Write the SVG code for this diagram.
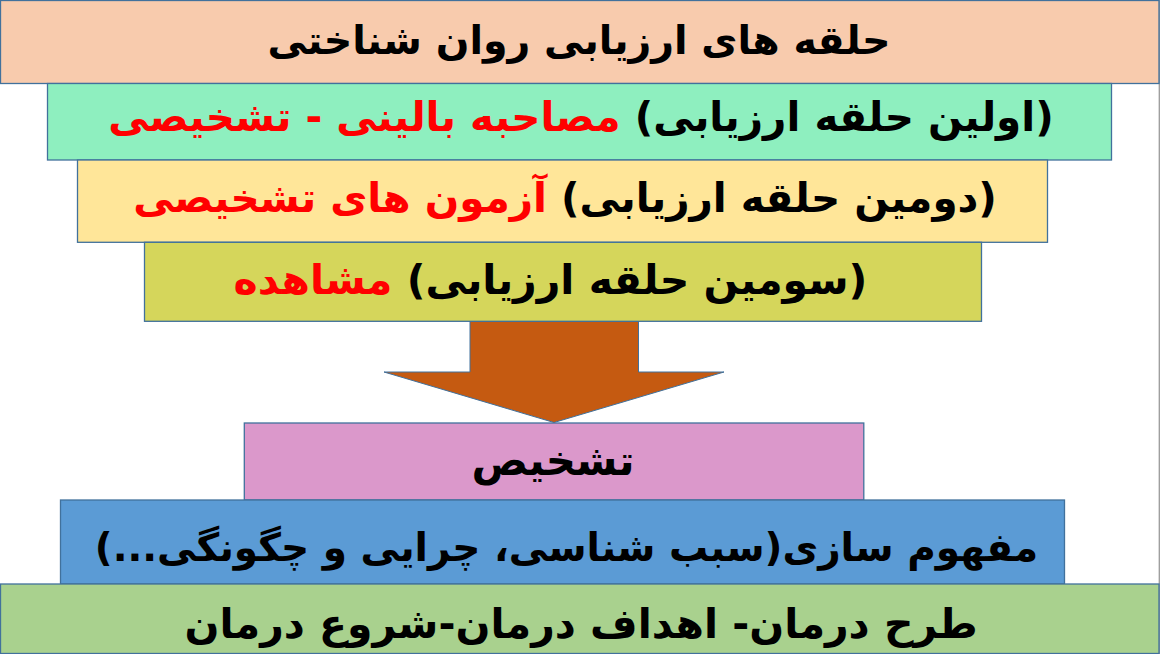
<svg xmlns="http://www.w3.org/2000/svg" width="1160" height="654" viewBox="0 0 1160 654">
<style>
.box{stroke:#41719C;stroke-width:1.3}
.t{font-family:"DejaVu Sans",sans-serif;font-weight:bold;font-size:40px;fill:#000;text-anchor:middle;direction:rtl}
.red{fill:#FF0000}
</style>
<rect width="1160" height="654" fill="#FFFFFF"/>
<line x1="1159.3" y1="0" x2="1159.3" y2="654" stroke="#9A9A9A" stroke-width="1.3"/>
<g id="connectors">
<path id="arrow" d="M470,321 L638.5,321 L638.5,372 L724,372 L554,422.5 L384,372 L470,372 Z" fill="#C55A11" stroke="#41719C" stroke-width="1"/>
</g>
<g id="title">
<rect class="box" x="0.5" y="0.5" width="1158.5" height="83" fill="#F8CBAD"/>
<text class="t" x="579" y="54" style="font-size:39.5px" direction="rtl">حلقه های ارزیابی روان شناختی</text>
</g>
<g id="ring1">
<rect class="box" x="47.5" y="83.5" width="1064" height="76.5" fill="#8EEFBF"/>
<text class="t" x="581" y="131" style="font-size:40.5px" direction="rtl">(اولین حلقه ارزیابی) <tspan class="red">مصاحبه بالینی - تشخیصی</tspan></text>
</g>
<g id="ring2">
<rect class="box" x="77.5" y="160" width="970" height="82.3" fill="#FFE699"/>
<text class="t" x="565" y="212" style="font-size:40.5px" direction="rtl">(دومین حلقه ارزیابی) <tspan class="red">آزمون های تشخیصی</tspan></text>
</g>
<g id="ring3">
<rect class="box" x="144.5" y="242.3" width="837" height="79" fill="#D5D65B"/>
<text class="t" x="550.5" y="294" style="font-size:41px" direction="rtl">(سومین حلقه ارزیابی) <tspan class="red">مشاهده</tspan></text>
</g>
<g id="diagnosis">
<rect class="box" x="244.3" y="423" width="619.5" height="77" fill="#DB98CB"/>
<text class="t" x="553" y="475" style="font-size:42px" direction="rtl">تشخیص</text>
</g>
<g id="conceptualization">
<rect class="box" x="60.5" y="500" width="1004" height="84" fill="#5B9BD5"/>
<text class="t" x="566.5" y="561" style="font-size:39px" direction="rtl">مفهوم سازی(سبب شناسی، چرایی و چگونگی...)</text>
</g>
<g id="treatment">
<rect class="box" x="0.5" y="584" width="1158.5" height="69.5" fill="#A9D18E"/>
<text class="t" x="581" y="638" style="font-size:41px" direction="rtl">طرح درمان- اهداف درمان-شروع درمان</text>
</g>
</svg>
